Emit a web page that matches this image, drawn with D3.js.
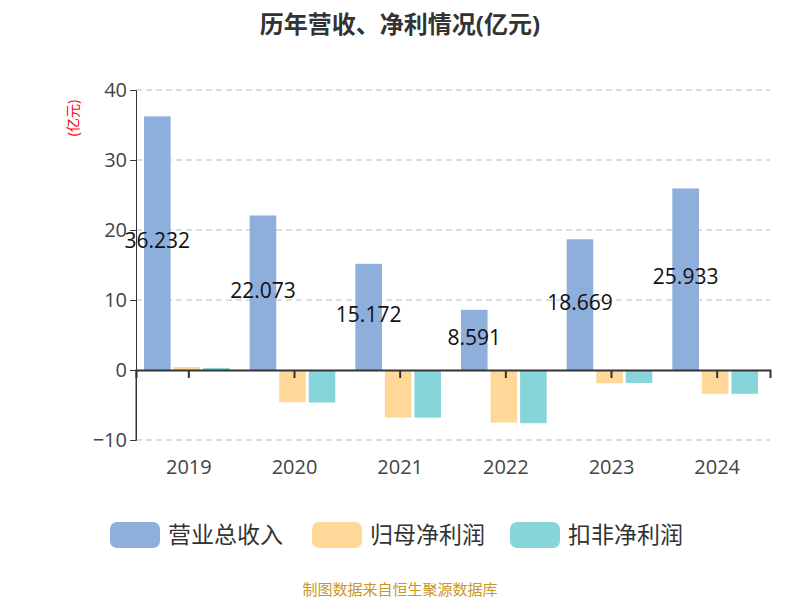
<!DOCTYPE html><html><head><meta charset="utf-8"><script src="https://cdn.jsdelivr.net/npm/d3@7"></script>
<style>body{margin:0;background:#fff}text{font-family:"Open Sans","Noto Sans CJK SC",sans-serif}</style></head><body><svg id="c" width="800" height="600"></svg><script>
const years=["2019","2020","2021","2022","2023","2024"];
const revenue=[36.232,22.073,15.172,8.591,18.669,25.933];
const netProfit=[0.43,-4.6,-6.8,-7.5,-1.9,-3.4];
const deducted=[0.3,-4.65,-6.8,-7.6,-1.85,-3.4];
const seriesNames=["营业总收入","归母净利润","扣非净利润"];
const colors=["#8eaedb","#ffd899","#88d5d9"];
const yTicks=[-10,0,10,20,30,40];
const svg=d3.select("#c");
const x=d3.scaleBand().domain(years).range([136,770]);
const y=d3.scaleLinear().domain([-10,40]).range([440,90]);
const xs=d3.scaleBand().domain([0,1,2]).range([8,x.bandwidth()-12]).paddingInner(0.1);
svg.append("text").attr("x",400).attr("y",33).attr("text-anchor","middle").attr("font-size",24).attr("font-weight","bold").attr("fill","#333").text("历年营收、净利情况(亿元)");
yTicks.forEach(t=>{if(t!==0)svg.append("line").attr("x1",136).attr("x2",770).attr("y1",y(t)).attr("y2",y(t)).attr("stroke","#bbb").attr("stroke-dasharray","6,4");});
const ya=svg.append("g").attr("transform","translate(136,0)").call(d3.axisLeft(y).tickValues(yTicks).tickSize(6));
ya.selectAll("text").attr("font-size",20).attr("fill","#444");ya.selectAll("line,path").attr("stroke","#333");
svg.append("text").attr("transform","translate(78,118) rotate(-90)").attr("text-anchor","middle").attr("font-size",14).attr("fill","red").text("(亿元)");
[revenue,netProfit,deducted].forEach((arr,si)=>{
 svg.selectAll(null).data(arr).enter().append("rect").attr("x",(d,i)=>x(years[i])+xs(si)).attr("width",xs.bandwidth())
 .attr("y",d=>y(Math.max(d,0))).attr("height",d=>Math.abs(y(d)-y(0))).attr("fill",colors[si]);
});
const xa=svg.append("g").attr("transform",`translate(0,${y(0)})`).call(d3.axisBottom(x).tickSize(8).tickFormat(""));
xa.selectAll("line,path").attr("stroke","#333").attr("stroke-width",2);
svg.append("line").attr("x1",136).attr("x2",136).attr("y1",440).attr("y2",y(0)).attr("stroke","#333");
years.forEach(yr=>svg.append("text").attr("x",x(yr)+x.bandwidth()/2).attr("y",474).attr("text-anchor","middle").attr("font-size",20).attr("fill","#444").text(yr));
revenue.forEach((d,i)=>svg.append("text").attr("x",x(years[i])+xs(0)+xs.bandwidth()/2).attr("y",y(d/2)+5).attr("text-anchor","middle").attr("font-size",21).attr("fill","#111").text(d.toFixed(3).replace(/0+$/,"")));
const lx=[110,312,510];
seriesNames.forEach((n,i)=>{svg.append("rect").attr("x",lx[i]).attr("y",522).attr("width",50).attr("height",26).attr("rx",7).attr("fill",colors[i]);
 svg.append("text").attr("x",lx[i]+58).attr("y",543).attr("font-size",23).attr("fill","#333").text(n);});
svg.append("text").attr("x",400).attr("y",595).attr("text-anchor","middle").attr("font-size",15).attr("fill","#c8962a").text("制图数据来自恒生聚源数据库");
</script></body></html>
